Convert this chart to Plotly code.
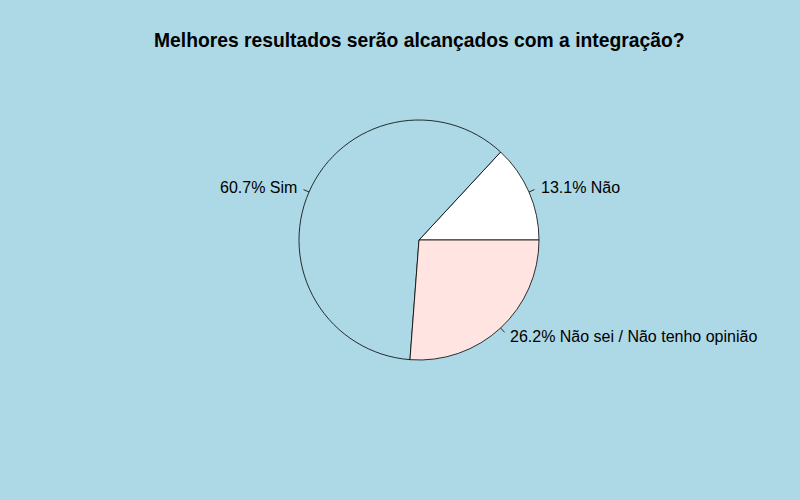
import math
import plotly.graph_objects as go

labels = ["Não", "Sim", "Não sei / Não tenho opinião"]
values = [13.1, 60.7, 26.2]
colors = ["#FFFFFF", "#ADD8E6", "#FFE4E1"]
title = "Melhores resultados serão alcançados com a integração?"

W, H = 800, 500
cx, cy, R = 419, 240, 120

total = sum(values)
# start at 3 o'clock, counterclockwise (like R's pie)
rot = 90 - 360 * values[0] / total

fig = go.Figure(go.Pie(
    labels=labels, values=values, sort=False, direction="counterclockwise",
    rotation=rot, textinfo="none", hoverinfo="label+percent",
    marker=dict(colors=colors, line=dict(color="black", width=0.8)),
    domain=dict(x=[(cx - R) / W, (cx + R) / W], y=[(H - cy - R) / H, (H - cy + R) / H]),
    showlegend=False,
))

cum = 0.0
shapes, annotations = [], []
for lab, v in zip(labels, values):
    mid = 2 * math.pi * (cum + v / 2) / total
    cum += v
    c, s = math.cos(mid), math.sin(mid)
    x0, y0 = cx + R * c, cy - R * s
    x1, y1 = cx + 1.05 * R * c, cy - 1.05 * R * s
    shapes.append(dict(type="line", xref="paper", yref="paper",
                       x0=x0 / W, y0=1 - y0 / H, x1=x1 / W, y1=1 - y1 / H,
                       line=dict(color="black", width=0.8)))
    tx, ty = cx + 1.1 * R * c, cy - 1.1 * R * s
    annotations.append(dict(xref="paper", yref="paper", x=tx / W, y=1 - ty / H,
                            text=f"{v / total * 100:.1f}% {lab}", showarrow=False,
                            xanchor="left" if c > 0 else "right", yanchor="middle",
                            xshift=-1 if c > 0 else 1,
                            font=dict(size=16, color="black", family="Liberation Sans")))

annotations.append(dict(xref="paper", yref="paper", x=cx / W, y=1 - 41 / H,
                        text=f"<b>{title}</b>", showarrow=False, xanchor="center",
                        yanchor="middle",
                        font=dict(size=19.3, color="black", family="Liberation Sans")))

fig.update_layout(
    width=W, height=H, margin=dict(l=0, r=0, t=0, b=0),
    paper_bgcolor="#ADD8E6", plot_bgcolor="#ADD8E6",
    shapes=shapes, annotations=annotations,
)
fig.write_html("out.html")
